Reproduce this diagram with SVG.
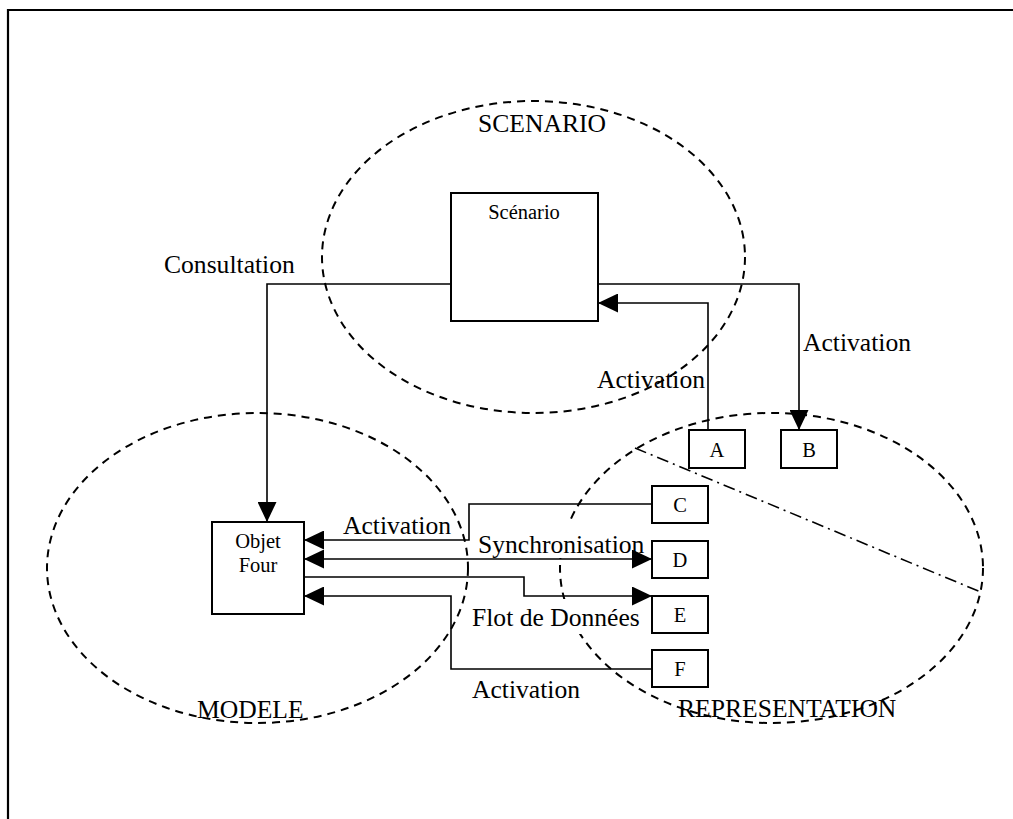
<svg xmlns="http://www.w3.org/2000/svg" width="1013" height="819" viewBox="0 0 1013 819">
<defs>
<marker id="arr" markerUnits="userSpaceOnUse" markerWidth="20" markerHeight="19" refX="20" refY="9.5" orient="auto-start-reverse">
<path d="M0,0 L20,9.5 L0,19 z" fill="#000"/>
</marker>
<style>
.ell{fill:none;stroke:#000;stroke-width:2;stroke-dasharray:8 6}
.box{fill:#fff;stroke:#000;stroke-width:2}
.con{fill:none;stroke:#000;stroke-width:1.6}
.lbl{font-family:"Liberation Serif","Times New Roman",serif;font-size:25.6px;fill:#000}
.nt{font-family:"Liberation Serif","Times New Roman",serif;font-size:20.5px;fill:#000;text-anchor:middle}
</style>
</defs>
<rect width="1013" height="819" fill="#fff"/>
<path d="M8,819 V10 H1013" fill="none" stroke="#000" stroke-width="2.2"/>
<g id="regions">
<ellipse class="ell" cx="533.5" cy="257" rx="211.5" ry="156"/>
<ellipse class="ell" cx="257.5" cy="568" rx="210.5" ry="155"/>
<ellipse class="ell" cx="771.5" cy="568" rx="211.5" ry="155"/>
<path d="M635,448 L983,593" fill="none" stroke="#000" stroke-width="1.6" stroke-dasharray="12 5 2 5"/>
</g>
<g id="label-backgrounds">
<rect x="476" y="522" width="172" height="36" fill="#fff"/>
<rect x="470" y="599" width="170" height="35" fill="#fff"/>
</g>
<g id="connectors">
<path class="con" d="M451,284 H267 V522" marker-end="url(#arr)"/>
<path class="con" d="M598,284 H799 V430" marker-end="url(#arr)"/>
<path class="con" d="M708,430 V303 H598" marker-end="url(#arr)"/>
<path class="con" d="M652,504 H469 V540 H304" marker-end="url(#arr)"/>
<path class="con" d="M304,559 H652" marker-start="url(#arr)" marker-end="url(#arr)"/>
<path class="con" d="M304,577 H524 V596 H652" marker-end="url(#arr)"/>
<path class="con" d="M652,669 H451 V596 H304" marker-end="url(#arr)"/>
</g>
<g id="node-scenario">
<rect class="box" x="451" y="193" width="147" height="128"/>
<text class="nt" x="524" y="219">Scénario</text>
</g>
<g id="node-objet-four">
<rect class="box" x="212" y="522" width="92" height="92"/>
<text class="nt" x="258" y="548">Objet</text>
<text class="nt" x="258" y="572">Four</text>
</g>
<g id="node-a">
<rect class="box" x="689" y="430" width="56" height="38"/>
<text class="nt" x="717" y="457">A</text>
</g>
<g id="node-b">
<rect class="box" x="781" y="430" width="56" height="38"/>
<text class="nt" x="809" y="457">B</text>
</g>
<g id="node-c">
<rect class="box" x="652" y="486" width="56" height="37"/>
<text class="nt" x="680" y="512">C</text>
</g>
<g id="node-d">
<rect class="box" x="652" y="541" width="56" height="37"/>
<text class="nt" x="680" y="567">D</text>
</g>
<g id="node-e">
<rect class="box" x="652" y="596" width="56" height="37"/>
<text class="nt" x="680" y="622">E</text>
</g>
<g id="node-f">
<rect class="box" x="652" y="650" width="56" height="37"/>
<text class="nt" x="680" y="676">F</text>
</g>
<g id="labels">
<text class="lbl" x="478" y="132">SCENARIO</text>
<text class="lbl" x="197" y="718">MODELE</text>
<text class="lbl" x="678" y="717">REPRESENTATION</text>
<text class="lbl" x="164" y="273">Consultation</text>
<text class="lbl" x="803" y="351">Activation</text>
<text class="lbl" x="597" y="388">Activation</text>
<text class="lbl" x="343" y="534">Activation</text>
<text class="lbl" x="478" y="553">Synchronisation</text>
<text class="lbl" x="472" y="626">Flot de Données</text>
<text class="lbl" x="472" y="698">Activation</text>
</g>
</svg>
